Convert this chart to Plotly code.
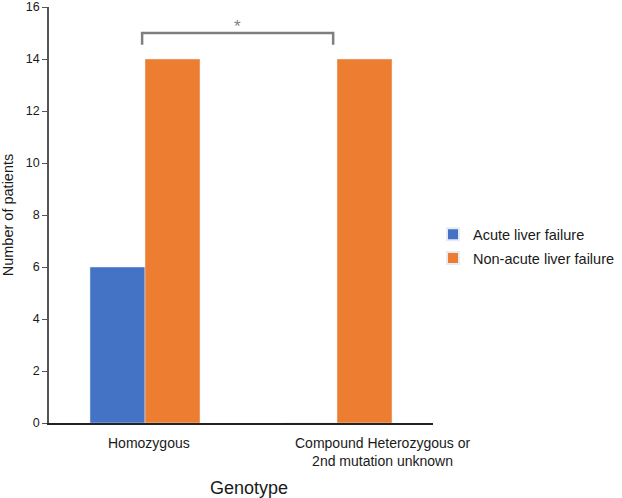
import plotly.graph_objects as go

# --- DATA ---
genotypes = ["Homozygous", "Compound Heterozygous or<br>2nd mutation unknown"]
acute = [6, 0]
non_acute = [14, 14]
y_ticks = [0, 2, 4, 6, 8, 10, 12, 14, 16]
sig_label = "*"
sig_level = 15
sig_drop = 14.55

BLUE = "#4472C4"
ORANGE = "#ED7D31"
FONT = "Liberation Sans, Arial, sans-serif"

pos = list(range(len(genotypes)))

fig = go.Figure()
fig.add_trace(go.Bar(x=pos, y=acute, name="Acute liver failure", marker_color=BLUE,
                     legendgroup="a"))
fig.add_trace(go.Bar(x=pos, y=non_acute, name="Non-acute liver failure", marker_color=ORANGE,
                     legendgroup="b"))

# significance bracket between the two groups
fig.add_shape(type="path",
              path=f"M {pos[0]-0.015},{sig_drop} L {pos[0]-0.015},{sig_level} "
                   f"L {pos[1]-0.02},{sig_level} L {pos[1]-0.02},{sig_drop}",
              xref="x", yref="y", line=dict(color="#7f7f7f", width=2.5))
fig.add_annotation(x=(pos[0] + pos[1]) / 2 - 0.02, y=sig_level, text=sig_label, showarrow=False,
                   yanchor="bottom", yshift=-5, font=dict(size=17, color="#7f7f7f", family=FONT))

# category labels under the axis
for i, (p, lab) in enumerate(zip(pos, genotypes)):
    fig.add_annotation(x=p, y=0, text=lab, showarrow=False, yanchor="top", yshift=-10,
                       xshift=(4 if i == 0 else 45), align="center",
                       font=dict(size=14, color="#1a1a1a", family=FONT))

fig.add_annotation(x=0.5, xref="paper", y=0, yref="paper", yshift=-53, yanchor="top",
                   text="Genotype", showarrow=False, xshift=8,
                   font=dict(size=18, family=FONT, color="#1a1a1a"))

fig.update_layout(
    width=622, height=498,
    margin=dict(l=49, r=189, t=7, b=75, autoexpand=False),
    plot_bgcolor="white", paper_bgcolor="white",
    barmode="group", bargap=0.427, bargroupgap=0,
    font=dict(family=FONT, color="#1a1a1a"),
    legend=dict(x=1.0, y=0.425, yanchor="middle", xanchor="left",
                font=dict(size=14.5, family=FONT, color="#1a1a1a"),
                tracegroupgap=2, itemsizing="constant"),
    xaxis=dict(range=[-0.5, 1.5], showticklabels=False, ticks="", showgrid=False,
               showline=True, linecolor="#222222", linewidth=1.5, zeroline=False),
    yaxis=dict(range=[0, 16], tickvals=y_ticks, ticks="outside", ticklen=5,
               tickcolor="#555555", showgrid=False, showline=True, linecolor="#555555",
               linewidth=1.5, zeroline=False, tickfont=dict(size=12.5, color="#1a1a1a"),
               ticklabeloverflow="allow",
               title=dict(text="Number of patients", font=dict(size=14.5, color="#1a1a1a"),
                          standoff=12)),
)

# drop the default page margin so the figure sits at the window's corner
fig.write_html("out.html", config={"displayModeBar": False},
               post_script="document.body.style.margin='0';")
